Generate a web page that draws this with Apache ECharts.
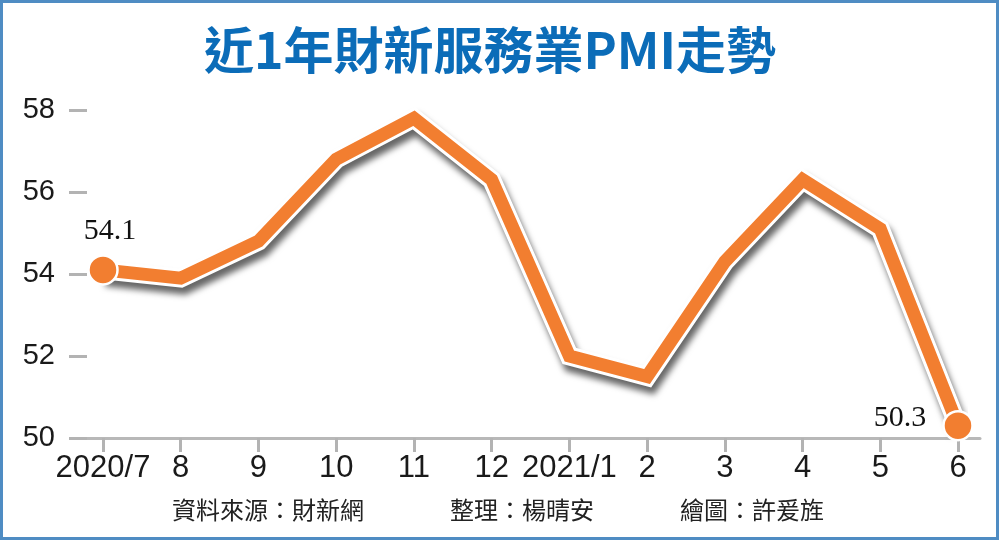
<!DOCTYPE html>
<html>
<head>
<meta charset="utf-8">
<script src="https://cdn.jsdelivr.net/npm/echarts@6/dist/echarts.min.js"></script>
<style>
  html, body { margin: 0; padding: 0; background: #fff; }
  #chart { width: 1000px; height: 540px; }
</style>
</head>
<body>
<div id="chart"></div>
<script>
// 近1年財新服務業PMI
const months = ['2020/7', '8', '9', '10', '11', '12', '2021/1', '2', '3', '4', '5', '6'];
const pmi = [54.1, 53.9, 54.8, 56.8, 57.8, 56.3, 52.0, 51.5, 54.3, 56.3, 55.1, 50.3];
const yTicks = [50, 52, 54, 56, 58];
const credits = ['資料來源：財新網', '整理：楊晴安', '繪圖：許爰旌'];

const ORANGE = '#f27e30';
const BLUE = '#0b6cb8';
const last = pmi.length - 1;

const chart = echarts.init(document.getElementById('chart'));

chart.setOption({
  backgroundColor: '#fff',
  animation: false,
  title: {
    text: '近1年財新服務業PMI走勢',
    left: 485,
    top: 20,
    textAlign: 'center',
    textStyle: {
      color: BLUE,
      fontSize: 50,
      fontWeight: 'bold',
      fontFamily: '"Noto Sans CJK TC", sans-serif'
    }
  },
  grid: [
    // data grid
    { left: 103, right: 42, top: 110, bottom: 102 },
    // long base line + y ticks
    { left: 87, right: 20, top: 110, bottom: 102 }
  ],
  xAxis: [
    {
      type: 'category',
      gridIndex: 0,
      data: months,
      boundaryGap: false,
      axisLine: { show: false },
      axisTick: { show: true, interval: 0, length: 14, lineStyle: { color: '#b3b3b3', width: 3 } },
      axisLabel: {
        interval: 0,
        margin: 15,
        color: '#1a1a1a',
        fontSize: 31,
        fontFamily: '"Liberation Sans", Arial, sans-serif'
      }
    },
    {
      type: 'value',
      gridIndex: 1,
      min: 0,
      max: 1,
      axisLine: { show: true, lineStyle: { color: '#b8b8b8', width: 3 } },
      axisTick: { show: false },
      axisLabel: { show: false },
      splitLine: { show: false }
    }
  ],
  yAxis: [
    {
      type: 'value',
      gridIndex: 0,
      min: yTicks[0],
      max: yTicks[yTicks.length - 1],
      interval: 2,
      show: false
    },
    {
      type: 'value',
      gridIndex: 1,
      min: yTicks[0],
      max: yTicks[yTicks.length - 1],
      interval: 2,
      offset: 3,
      axisLine: { show: false },
      axisTick: { show: true, length: 18, lineStyle: { color: '#b3b3b3', width: 3 } },
      axisLabel: {
        margin: 29,
        color: '#1a1a1a',
        fontSize: 29,
        fontFamily: '"Liberation Sans", Arial, sans-serif'
      },
      splitLine: { show: false }
    }
  ],
  series: [
    {
      // white outline with drop shadow
      type: 'line',
      xAxisIndex: 0,
      yAxisIndex: 0,
      data: pmi,
      symbol: 'none',
      silent: true,
      lineStyle: {
        color: '#fff',
        width: 19,
        join: 'miter',
        shadowColor: 'rgba(0,0,0,0.6)',
        shadowBlur: 6,
        shadowOffsetX: 3,
        shadowOffsetY: 7
      },
      z: 2
    },
    {
      type: 'line',
      xAxisIndex: 0,
      yAxisIndex: 0,
      data: pmi,
      symbol: 'none',
      lineStyle: { color: ORANGE, width: 13, join: 'miter' },
      z: 3
    },
    {
      type: 'scatter',
      xAxisIndex: 0,
      yAxisIndex: 0,
      symbol: 'circle',
      symbolSize: 29,
      itemStyle: { color: ORANGE, borderColor: '#fff', borderWidth: 2.5, opacity: 1 },
      label: {
        show: true,
        color: '#111',
        fontSize: 30,
        fontFamily: '"Liberation Serif", "DejaVu Serif", serif',
        formatter: p => p.value[1].toFixed(1)
      },
      data: [
        { value: [months[0], pmi[0]], label: { position: 'top', distance: 8, offset: [7, 0] } },
        { value: [months[last], pmi[last]], label: { position: 'left', distance: 16, offset: [0, -8] } }
      ],
      z: 4
    }
  ],
  graphic: [
    {
      type: 'rect',
      shape: { x: 1.5, y: 1.5, width: 996, height: 537 },
      style: { fill: 'none', stroke: '#4f8cc3', lineWidth: 3 },
      z: 10
    },
    {
      type: 'text', left: 172, top: 498,
      style: { text: credits[0], fill: '#222', fontSize: 24, fontFamily: '"Noto Sans CJK TC", sans-serif' }
    },
    {
      type: 'text', left: 450, top: 498,
      style: { text: credits[1], fill: '#222', fontSize: 24, fontFamily: '"Noto Sans CJK TC", sans-serif' }
    },
    {
      type: 'text', left: 680, top: 498,
      style: { text: credits[2], fill: '#222', fontSize: 24, fontFamily: '"Noto Sans CJK TC", sans-serif' }
    }
  ]
});
</script>
</body>
</html>
